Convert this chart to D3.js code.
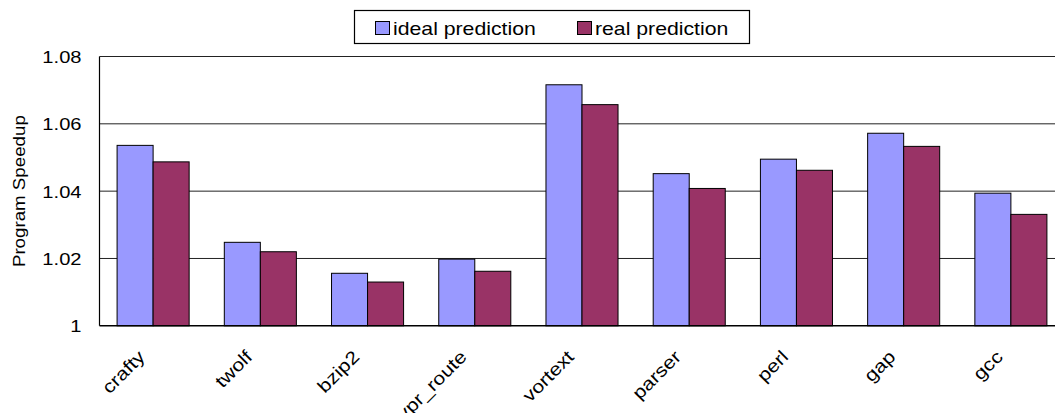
<!DOCTYPE html>
<html>
<head>
<meta charset="utf-8">
<script src="https://cdn.jsdelivr.net/npm/d3@7"></script>
<style>
  html, body { margin: 0; padding: 0; background: #fff; }
  svg { display: block; font-family: "Liberation Sans", Arial, sans-serif; }
</style>
</head>
<body>
<svg id="chart" width="1055" height="413"></svg>
<script>
// Benchmarks and measured speedups
const benchmarks = ["crafty", "twolf", "bzip2", "vpr_route", "vortext", "parser", "perl", "gap", "gcc"];
const idealPrediction = [1.0536, 1.0248, 1.0156, 1.0198, 1.0716, 1.0452, 1.0495, 1.0572, 1.0394];
const realPrediction  = [1.0487, 1.0220, 1.0130, 1.0162, 1.0657, 1.0408, 1.0462, 1.0533, 1.0331];
const seriesNames = ["ideal prediction", "real prediction"];
const seriesColors = ["#9999FF", "#993366"];
const yTickValues = [1, 1.02, 1.04, 1.06, 1.08];
const yTickLabels = ["1", "1.02", "1.04", "1.06", "1.08"];
const yTitle = "Program Speedup";

const svg = d3.select("#chart");
const stretch = 1.18; // wide text rendering

const plot = { left: 99.5, top: 56.5, bottom: 325.8, right: 1064.5 };

const y = d3.scaleLinear().domain([1, 1.08]).range([plot.bottom, plot.top]);
const x0 = d3.scaleBand().domain(benchmarks)
  .range([plot.left, plot.right]).paddingInner(0.328).paddingOuter(0.164);
const x1 = d3.scaleBand().domain(seriesNames).range([0, x0.bandwidth()]);

// Horizontal grid lines
svg.append("g").selectAll("line")
  .data(yTickValues.slice(1))
  .join("line")
  .attr("x1", plot.left).attr("x2", 1055)
  .attr("y1", d => y(d)).attr("y2", d => y(d))
  .attr("stroke", "#222").attr("stroke-width", 1);

// Bars
const rows = benchmarks.map((b, i) => ({ b, vals: [idealPrediction[i], realPrediction[i]] }));
svg.append("g").selectAll("g")
  .data(rows)
  .join("g")
  .attr("transform", d => `translate(${x0(d.b)},0)`)
  .selectAll("rect")
  .data(d => d.vals.map((v, k) => ({ v, k })))
  .join("rect")
  .attr("x", d => x1(seriesNames[d.k]))
  .attr("y", d => y(d.v))
  .attr("width", x1.bandwidth())
  .attr("height", d => y(1) - y(d.v))
  .attr("fill", d => seriesColors[d.k])
  .attr("stroke", "#000").attr("stroke-width", 1);

// Axis lines
svg.append("line")
  .attr("x1", plot.left).attr("x2", plot.left)
  .attr("y1", plot.top).attr("y2", plot.bottom)
  .attr("stroke", "#000").attr("stroke-width", 1.2);
svg.append("line")
  .attr("x1", plot.left).attr("x2", 1055)
  .attr("y1", plot.bottom).attr("y2", plot.bottom)
  .attr("stroke", "#000").attr("stroke-width", 1.6);

// Y axis tick labels
const yAxis = d3.axisLeft(y).tickValues(yTickValues).tickSize(0)
  .tickFormat((d, i) => yTickLabels[i]);
const gy = svg.append("g").attr("transform", `translate(${plot.left},0)`).call(yAxis);
gy.select(".domain").remove();
gy.selectAll("text")
  .attr("x", -18 / 1.22)
  .attr("dy", "0.36em")
  .attr("transform", "scale(1.22,1)")
  .attr("font-size", 16.5)
  .attr("font-family", "Liberation Sans, Arial, sans-serif")
  .attr("fill", "#000");

// Y axis title
svg.append("text")
  .attr("transform", `translate(25,${(plot.top + plot.bottom) / 2}) rotate(-90) scale(1.17,1)`)
  .attr("text-anchor", "middle")
  .attr("font-size", 16)
  .text(yTitle);

// X axis category labels
svg.append("g").selectAll("text")
  .data(benchmarks)
  .join("text")
  .attr("transform", d => `translate(${x0(d) + x0.bandwidth() / 2 - 7},358) rotate(-45) scale(${stretch},1)`)
  .attr("text-anchor", "end")
  .attr("font-size", 18)
  .text(d => d);

// Legend
const legend = svg.append("g");
legend.append("rect")
  .attr("x", 354.5).attr("y", 10.5).attr("width", 395).attr("height", 33)
  .attr("fill", "#fff").attr("stroke", "#000").attr("stroke-width", 1.2);
const legendX = [375, 577];
seriesNames.forEach((name, k) => {
  legend.append("rect")
    .attr("x", legendX[k] + 0.5).attr("y", 21.5).attr("width", 14).attr("height", 13)
    .attr("fill", seriesColors[k]).attr("stroke", "#000").attr("stroke-width", 1);
  legend.append("text")
    .attr("transform", `translate(${legendX[k] + 18},35) scale(${stretch},1)`)
    .attr("font-size", 18)
    .text(name);
});
</script>
</body>
</html>
